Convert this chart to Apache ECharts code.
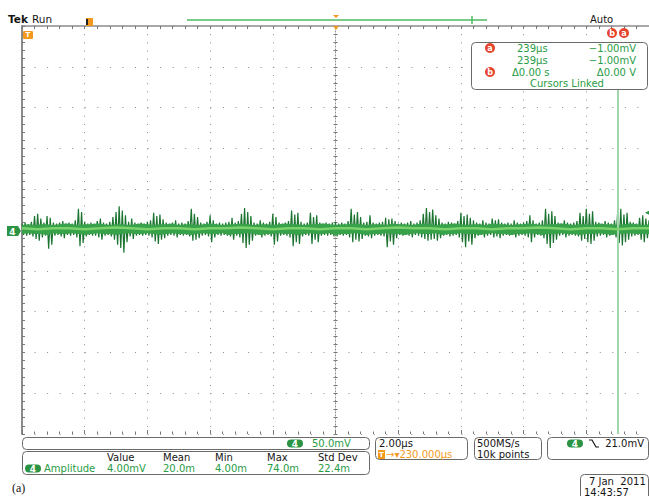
<!DOCTYPE html>
<html><head><meta charset="utf-8">
<script src="https://cdn.jsdelivr.net/npm/echarts@6/dist/echarts.min.js"></script>
<style>html,body{margin:0;padding:0;background:#fff;}#c{width:649px;height:496px;}</style>
</head><body><div id="c"></div>
<script>
// ================= DATA =================
const triggerDelayUs = 230.000;      // T -> 230.000us
const timePerDivUs = 2.00;           // 2.00us/div
const voltPerDivMv = 50.0;           // 50.0mV/div
const timeRangeUs = [-10, 10];       // 10 divisions around the trigger point
const voltRangeMv = [-250, 250];     // 10 divisions around ground
const spikeStartUs = -10, spikeStepUs = 0.1;
const bandStepUs = 0.2, coreStepUs = 0.5;

// dark-green burst envelope (mV) every 0.1us
const spikeHiMv = [
 8,9,7,10,17,20,14,9,17,15,
 9,8,9,11,8,9,8,12,26,22,
 10,8,9,8,11,14,9,8,10,16,
 22,29,24,18,10,14,9,8,9,8,
 10,12,21,17,19,13,9,8,9,12,
 8,9,8,11,26,20,16,9,8,10,
 18,12,8,9,8,9,10,15,9,11,
 20,27,22,17,9,8,12,9,8,10,
 20,16,9,8,9,11,24,19,21,10,
 8,9,21,16,18,9,8,9,8,9,
 10,8,9,8,11,26,19,22,16,9,
 10,18,9,8,9,10,15,13,14,11,
 8,9,8,9,11,8,9,12,20,27,
 22,25,18,14,9,8,10,9,8,11,
 21,17,19,15,12,9,8,12,9,8,
 14,12,13,9,8,9,8,12,9,8,
 9,11,18,12,8,9,12,26,20,23,
 17,9,8,12,9,8,9,11,21,17,
 26,20,23,10,9,8,11,9,8,12,
 22,26,19,21,10,9,8,15,18,14,
 12];
const spikeLoMv = [
 -6,-7,-6,-8,-11,-13,-9,-7,-23,-18,
 -7,-6,-8,-10,-6,-7,-6,-9,-20,-16,
 -8,-6,-7,-7,-9,-12,-7,-6,-8,-12,
 -18,-22,-28,-15,-8,-11,-7,-6,-7,-6,
 -7,-9,-14,-17,-12,-10,-7,-6,-7,-9,
 -6,-7,-6,-8,-13,-12,-10,-7,-6,-8,
 -15,-9,-6,-7,-6,-7,-8,-12,-7,-9,
 -16,-22,-18,-13,-7,-6,-9,-7,-6,-8,
 -18,-14,-7,-6,-7,-9,-20,-15,-17,-8,
 -6,-7,-17,-12,-15,-7,-6,-7,-6,-8,
 -8,-6,-7,-6,-9,-15,-12,-14,-11,-7,
 -8,-10,-7,-6,-7,-8,-21,-14,-18,-10,
 -6,-7,-6,-7,-9,-6,-7,-9,-11,-13,
 -12,-11,-13,-10,-7,-6,-8,-7,-6,-9,
 -15,-21,-14,-18,-10,-7,-6,-9,-7,-6,
 -9,-8,-10,-7,-6,-7,-6,-9,-7,-6,
 -7,-9,-15,-9,-6,-7,-10,-17,-22,-16,
 -12,-7,-6,-9,-7,-6,-7,-8,-13,-11,
 -15,-17,-13,-8,-7,-6,-9,-7,-6,-9,
 -16,-19,-15,-12,-8,-7,-6,-12,-15,-10,
 -9];
// mid-green noise band (mV) every 0.2us
const bandHiMv = [
 6,7,6,7,7,6,7,8,7,6, 7,7,8,7,6,7,7,6,7,8, 7,6,7,7,8,6,7,7,6,7,
 8,7,6,7,7,8,7,6,7,7, 6,7,8,7,7,6,7,7,8,7, 6,7,7,8,7,6,7,7,6,8,
 7,7,6,7,8,7,6,7,7,8, 7,6,7,7,6,8,7,7,6,7, 7,8,7,6,7,7,8,7,6,7,
 7,6,8,7,7,6,7,8,7,6, 7];
const bandLoMv = [
 -5,-4,-5,-5,-6,-4,-5,-5,-4,-5, -6,-5,-4,-5,-5,-6,-5,-4,-5,-5, -4,-5,-6,-5,-4,-5,-5,-6,-5,-4,
 -5,-5,-4,-6,-5,-5,-4,-5,-6,-5, -5,-4,-5,-5,-6,-5,-4,-5,-5,-4, -6,-5,-5,-4,-5,-6,-5,-5,-4,-5,
 -5,-6,-5,-4,-5,-5,-4,-6,-5,-5, -4,-5,-5,-6,-5,-4,-5,-5,-6,-5, -5,-4,-5,-6,-5,-5,-4,-5,-5,-6,
 -5,-5,-4,-5,-6,-5,-5,-4,-5,-5, -5];
// bright intensity core (mV) every 0.5us
const coreMv = [2,1,2,2,1,2,3,2,1,2,2,1,2,2,3,2,1,2,2,1,2,2,1,2,3,2,2,1,2,2,1,2,2,3,2,1,2,2,1,2,2];

const cursorTimeUs = 239;            // both cursors (linked)
const cursorLevelMv = -1.00;
const cursorLineTopMv = 172;         // cursor line starts below the readout box
const triggerLevelMv = 21.0;

const cursorRows = [['239µs','−1.00mV'],['239µs','−1.00mV'],['Δ0.00 s','Δ0.00 V']];
const measHeaders = ['Value','Mean','Min','Max','Std Dev'];
const measValues = ['4.00mV','20.0m','4.00m','74.0m','22.4m'];
const measName = 'Amplitude';
const channelLabel = '4';
const scaleText = '50.0mV';
const timeText = '2.00µs';
const delayText = '→▾230.000µs';
const rateText = ['500MS/s','10k points'];
const trigText = '21.0mV';
const dateText = ['7 Jan  2011','14:43:57'];
const figLabel = '(a)';

// ================= BUILD =================
const spikeData = [];
spikeHiMv.forEach((v,i)=>{ const t = spikeStartUs + i*spikeStepUs; spikeData.push([t, v]); spikeData.push([t + spikeStepUs/2, spikeLoMv[i]]); });
const bandHiData = bandHiMv.map((v,i)=>[spikeStartUs + i*bandStepUs, v]);
const bandLoData = bandLoMv.map((v,i)=>[spikeStartUs + i*bandStepUs, v]);
const coreData = coreMv.map((v,i)=>[spikeStartUs + i*coreStepUs, v]);
const cursorRel = cursorTimeUs - triggerDelayUs;

const GRID = '#8c8c8c', TICK = '#777';
const TXTG = '#2a9c46', PILL = '#2a9444', ORANGE = '#f39a1e', RED = '#e5432b', BLACK = '#151515', BOXS = '#6a6a6a';
const FONT = 'DejaVu Sans';

function txt(x,y,s,color,opt){ return {type:'text', z:101, style:Object.assign({x:x,y:y,text:s,fill:color,fontFamily:FONT,fontSize:10,verticalAlign:'middle',align:'left'},opt||{})}; }
function box(x,y,w,h){ return {type:'rect', z:99, shape:{x:x,y:y,width:w,height:h,r:4}, style:{fill:'#fff',stroke:BOXS,lineWidth:1}}; }
function pill(cx,cy,w,h,label){ return [{type:'rect',z:100,shape:{x:cx-w/2,y:cy-h/2,width:w,height:h,r:h/2},style:{fill:PILL}}, txt(cx,cy,label,'#fff',{align:'center',fontWeight:'bold',fontSize:9})]; }
function circ(cx,cy,letter){ return [{type:'circle',z:100,shape:{cx:cx,cy:cy,r:5},style:{fill:RED}}, txt(cx,cy+0.5,letter,'#fff',{align:'center',fontWeight:'bold',fontSize:8})]; }

const measColX = [107,163,215,267,318];
let graphic = [];
graphic.push(txt(8,19,'Tek',BLACK,{fontWeight:'bold',fontSize:10.5}));
graphic.push(txt(32,19,'Run',BLACK,{fontSize:10.5}));
graphic.push({type:'rect',z:100,shape:{x:86,y:18,width:7,height:8},style:{fill:ORANGE}});
graphic.push({type:'rect',z:101,shape:{x:86,y:19,width:2,height:6},style:{fill:'#222'}});
graphic.push({type:'line',z:100,shape:{x1:187,y1:20,x2:487,y2:20},style:{stroke:'#4cbb63',lineWidth:1.5}});
graphic.push({type:'line',z:100,shape:{x1:472,y1:16,x2:472,y2:24},style:{stroke:'#4cbb63',lineWidth:1.5}});
graphic.push({type:'polygon',z:100,shape:{points:[[333,15],[339,15],[336,18]]},style:{fill:ORANGE}});
graphic.push({type:'polygon',z:100,shape:{points:[[333,26],[339,26],[336,30]]},style:{fill:ORANGE}});
graphic.push(txt(590,19,'Auto',BLACK));
graphic = graphic.concat(circ(612,33,'b'), circ(624,33,'a'));
// left trigger/level flag
graphic.push({type:'rect',z:100,shape:{x:23,y:31,width:10,height:8,r:1},style:{fill:ORANGE}});
graphic.push(txt(28,35,'T','#fff',{align:'center',fontSize:7,fontWeight:'bold'}));
// ground marker
graphic.push({type:'polygon',z:100,shape:{points:[[7,226],[18,226],[21,231],[18,236],[7,236]]},style:{fill:PILL}});
graphic.push(txt(12.5,231.5,channelLabel,'#fff',{align:'center',fontSize:9,fontWeight:'bold'}));
// cursor readout
graphic.push(box(471.5,42.5,176,47));
graphic = graphic.concat(circ(490,48,'a'), circ(490,72,'b'));
const rowY = [48,60,72];
cursorRows.forEach((r,i)=>{
  graphic.push(txt(i===2?512:517,rowY[i],r[0],TXTG));
  graphic.push(txt(636,rowY[i],r[1],TXTG,{align:'right'}));
});
graphic.push(txt(567,83.5,'Cursors Linked',TXTG,{align:'center'}));
// bottom readouts
graphic.push(box(22.5,437.5,347,12));
graphic = graphic.concat(pill(295,443.5,16,8,channelLabel));
graphic.push(txt(312,443.5,scaleText,TXTG));
graphic.push(box(22.5,451.5,347,23));
measHeaders.forEach((h,i)=>graphic.push(txt(measColX[i],457,h,BLACK)));
graphic = graphic.concat(pill(33,468.5,16,8,channelLabel));
graphic.push(txt(44,468.5,measName,TXTG));
measValues.forEach((v,i)=>graphic.push(txt(measColX[i],468.5,v,TXTG)));
graphic.push(box(375.5,437.5,92,22));
graphic.push(txt(379,443.5,timeText,BLACK));
graphic.push({type:'rect',z:100,shape:{x:378,y:450,width:7,height:9},style:{fill:ORANGE}});
graphic.push(txt(381.5,454.5,'T','#fff',{align:'center',fontSize:7,fontWeight:'bold'}));
graphic.push(txt(386,454.5,delayText,ORANGE));
graphic.push(box(474.5,437.5,67,22));
graphic.push(txt(477,443.5,rateText[0],BLACK));
graphic.push(txt(477,454.5,rateText[1],BLACK));
graphic.push(box(547.5,437.5,101,22));
graphic = graphic.concat(pill(575,443.5,16,8,channelLabel));
graphic.push({type:'polyline',z:100,shape:{points:[[589,440],[592,440],[596,447],[599,447]]},style:{stroke:BLACK,lineWidth:1.2,fill:null}});
graphic.push(txt(644,443.5,trigText,BLACK,{align:'right'}));
graphic.push(box(580.5,474.5,68,26));
graphic.push(txt(589,481,dateText[0],BLACK));
graphic.push(txt(584,492,dateText[1],BLACK));
graphic.push(txt(12,488,figLabel,BLACK,{fontFamily:'Liberation Serif',fontSize:12}));

const hiddenLabel = {show:false};
const option = {
  animation:false,
  backgroundColor:'#fff',
  grid:{left:22, top:26, width:628, height:408, containLabel:false},
  xAxis:[
    {type:'value',min:timeRangeUs[0],max:timeRangeUs[1],interval:timePerDivUs,position:'bottom',
     axisLine:{show:false,onZero:false},axisTick:{show:true,inside:true,length:4,lineStyle:{color:TICK}},
     minorTick:{show:true,splitNumber:5,length:2.5,lineStyle:{color:TICK}},axisLabel:hiddenLabel,
     splitLine:{show:true,lineStyle:{color:GRID,width:1,type:[1,7.16]}}},
    {type:'value',min:timeRangeUs[0],max:timeRangeUs[1],interval:timePerDivUs,position:'top',
     axisLine:{show:true,onZero:false,lineStyle:{color:GRID,width:1.5}},axisTick:{show:true,inside:true,length:3,lineStyle:{color:TICK}},
     minorTick:{show:true,splitNumber:5,length:3,lineStyle:{color:TICK}},axisLabel:hiddenLabel,splitLine:{show:false}},
    {type:'value',min:timeRangeUs[0],max:timeRangeUs[1],interval:timePerDivUs,position:'bottom',
     axisLine:{show:true,onZero:true,onZeroAxisIndex:0,lineStyle:{color:GRID,width:1,type:[1,2]}},
     axisTick:{show:true,inside:true,length:2,lineStyle:{color:TICK}},
     minorTick:{show:true,splitNumber:5,length:2,lineStyle:{color:TICK}},axisLabel:hiddenLabel,splitLine:{show:false}},
    {type:'value',min:timeRangeUs[0],max:timeRangeUs[1],interval:timePerDivUs,position:'bottom',
     axisLine:{show:false,onZero:true,onZeroAxisIndex:0},
     axisTick:{show:true,inside:false,length:2,lineStyle:{color:TICK}},
     minorTick:{show:true,splitNumber:5,length:2,lineStyle:{color:TICK}},axisLabel:hiddenLabel,splitLine:{show:false}}
  ],
  yAxis:[
    {type:'value',min:voltRangeMv[0],max:voltRangeMv[1],interval:voltPerDivMv,position:'left',
     axisLine:{show:true,onZero:false,lineStyle:{color:GRID,width:2}},axisTick:{show:true,inside:true,length:3,lineStyle:{color:TICK}},
     minorTick:{show:true,splitNumber:5,length:3,lineStyle:{color:TICK}},axisLabel:hiddenLabel,
     splitLine:{show:true,lineStyle:{color:GRID,width:1,type:[1,11.56]}}},
    {type:'value',min:voltRangeMv[0],max:voltRangeMv[1],interval:voltPerDivMv,position:'left',
     axisLine:{show:true,onZero:true,onZeroAxisIndex:0,lineStyle:{color:GRID,width:1,type:[1,2]}},
     axisTick:{show:true,inside:true,length:2,lineStyle:{color:TICK}},
     minorTick:{show:true,splitNumber:5,length:2,lineStyle:{color:TICK}},axisLabel:hiddenLabel,splitLine:{show:false}},
    {type:'value',min:voltRangeMv[0],max:voltRangeMv[1],interval:voltPerDivMv,position:'left',
     axisLine:{show:false,onZero:true,onZeroAxisIndex:0},
     axisTick:{show:true,inside:false,length:2,lineStyle:{color:TICK}},
     minorTick:{show:true,splitNumber:5,length:2,lineStyle:{color:TICK}},axisLabel:hiddenLabel,splitLine:{show:false}}
  ],
  series:[
    {type:'line',name:'bursts',data:spikeData,showSymbol:false,symbol:'none',silent:true,z:3,
     lineStyle:{color:'#1c7431',width:1.2}},
    {type:'line',name:'bandHi',data:bandHiData,showSymbol:false,symbol:'none',silent:true,z:4,
     lineStyle:{width:0},areaStyle:{color:'#37a249',opacity:1}},
    {type:'line',name:'bandLo',data:bandLoData,showSymbol:false,symbol:'none',silent:true,z:4,
     lineStyle:{width:0},areaStyle:{color:'#37a249',opacity:1}},
    {type:'line',name:'core',data:coreData,showSymbol:false,symbol:'none',silent:true,z:5,
     lineStyle:{color:'#7bd26c',width:2.5},
     markLine:{silent:true,symbol:'none',label:{show:false},lineStyle:{color:'#9fd6ab',width:2,type:'solid'},
       data:[[{coord:[cursorRel,cursorLineTopMv]},{coord:[cursorRel,voltRangeMv[0]]}]]},
     markPoint:{silent:true,symbol:'triangle',symbolSize:[8,8],symbolRotate:90,itemStyle:{color:PILL},label:{show:false},
       data:[{coord:[timeRangeUs[1],triggerLevelMv]}]}}
  ],
  graphic:graphic
};
const chart = echarts.init(document.getElementById('c'),null,{renderer:'svg'});
chart.setOption(option);
</script></body></html>
